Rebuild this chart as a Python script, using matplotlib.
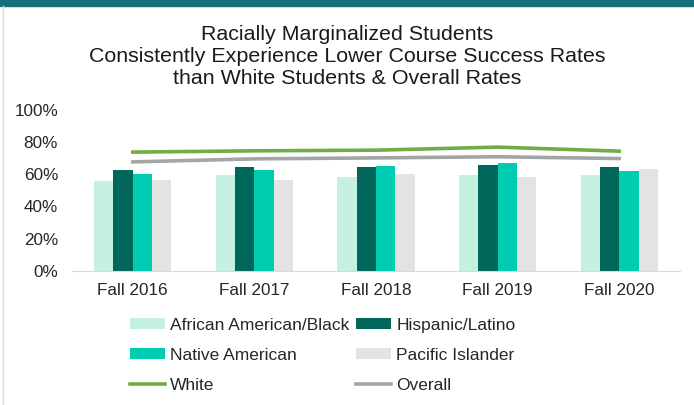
import matplotlib
matplotlib.use("Agg")
import matplotlib.pyplot as plt
import numpy as np
from matplotlib.patches import Rectangle
from matplotlib.lines import Line2D

plt.rcParams['font.family'] = ['Liberation Sans', 'DejaVu Sans']

categories = ["Fall 2016", "Fall 2017", "Fall 2018", "Fall 2019", "Fall 2020"]
african_american = [55.6, 59.4, 58.4, 59.4, 59.4]
hispanic = [62.5, 64.6, 64.6, 65.6, 64.6]
native_american = [60.4, 62.5, 65.4, 67.1, 61.9]
pacific_islander = [56.7, 56.7, 60.4, 58.5, 63.4]
white = [73.8, 74.6, 75.0, 76.9, 74.4]
overall = [67.7, 69.6, 70.2, 70.9, 69.8]
yticks = [0, 20, 40, 60, 80, 100]
ytick_labels = ["0%", "20%", "40%", "60%", "80%", "100%"]

bar_series = [
    ("African American/Black", african_american, "#c4f1df"),
    ("Hispanic/Latino", hispanic, "#00675a"),
    ("Native American", native_american, "#00ccb1"),
    ("Pacific Islander", pacific_islander, "#e3e3e3"),
]
line_series = [
    ("White", white, "#70ad47"),
    ("Overall", overall, "#a5a5a5"),
]

W, H = 694, 405
fig = plt.figure(figsize=(W / 100, H / 100), dpi=100)
fig.patch.set_facecolor("white")

# top band and left border
fig.add_artist(Rectangle((0, 1 - 6 / H), 1, 6 / H, transform=fig.transFigure,
                         color="#176f7c", zorder=0))
fig.add_artist(Line2D([2.5 / W, 2.5 / W], [0, 1 - 6 / H], transform=fig.transFigure,
                      color="#d8d8d8", lw=1))

left, right, top, bottom = 72, 680, 110, 270.7
ax = fig.add_axes([left / W, 1 - bottom / H, (right - left) / W, (bottom - top) / H])

x = np.arange(len(categories))
bw = 0.159
handles = {}
for i, (name, vals, col) in enumerate(bar_series):
    b = ax.bar(x + (i - 1.5) * bw, vals, width=bw, color=col, label=name, zorder=2)
    handles[name] = b
for name, vals, col in line_series:
    l, = ax.plot(x, vals, color=col, lw=2.6, label=name, zorder=3)
    handles[name] = l

ax.set_xlim(-0.5, len(categories) - 0.5)
ax.set_ylim(0, 100)
ax.set_yticks(yticks)
ax.set_yticklabels(ytick_labels)
ax.set_xticks(x)
ax.set_xticklabels(categories)
for s in ["top", "right", "left"]:
    ax.spines[s].set_visible(False)
ax.spines["bottom"].set_color("#d9d9d9")
ax.tick_params(axis="both", length=0, labelsize=12.3, colors="#262626")
ax.tick_params(axis="x", pad=9)
ax.tick_params(axis="y", pad=10)

fig.text(0.5, 1 - 56 / H,
         "Racially Marginalized Students\nConsistently Experience Lower Course Success Rates\nthan White Students & Overall Rates",
         ha="center", va="center", fontsize=15.4, color="#1a1a1a", linespacing=1.2)

order = ["African American/Black", "Native American", "White",
         "Hispanic/Latino", "Pacific Islander", "Overall"]
leg = fig.legend([handles[n] for n in order], order, ncol=2,
                 loc="upper left", bbox_to_anchor=(130 / W, 1 - 318 / H),
                 frameon=False, fontsize=12.5, handlelength=2.0, handleheight=0.6,
                 handletextpad=0.3, columnspacing=0.4, labelspacing=0.85,
                 borderpad=0, borderaxespad=0)
for t in leg.get_texts():
    t.set_color("#262626")

fig.savefig("out.png", dpi=100)
